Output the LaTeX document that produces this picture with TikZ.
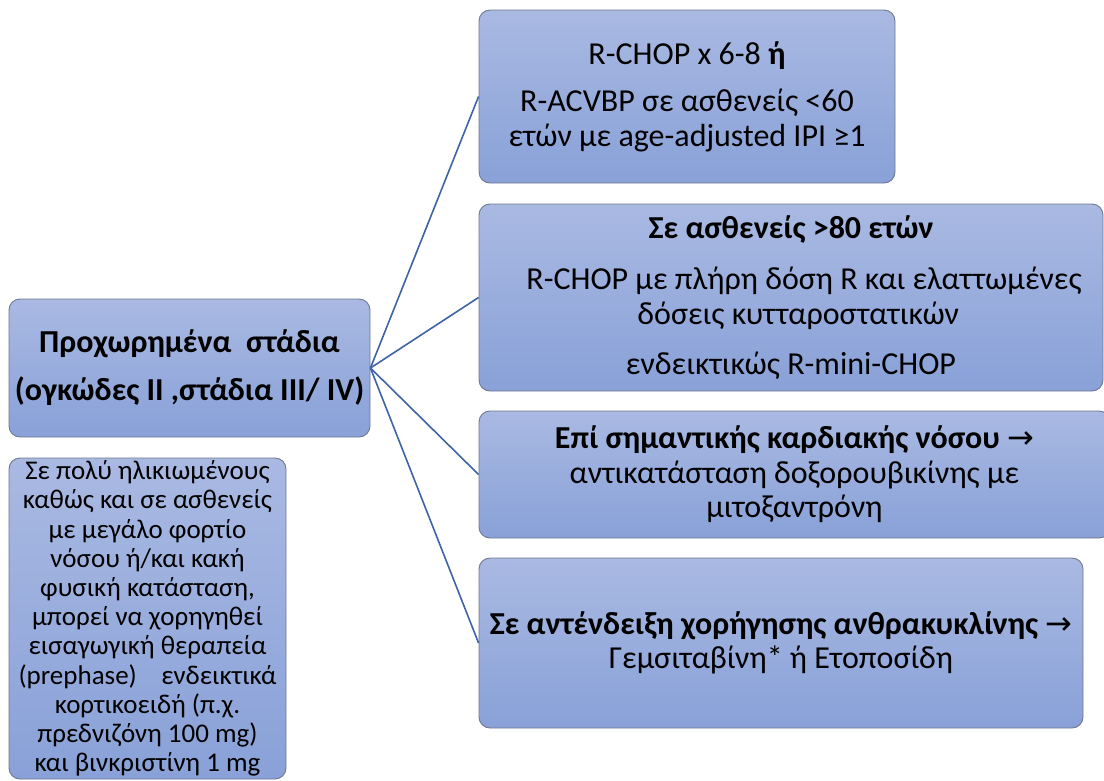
\documentclass[tikz,border=0pt]{standalone}
\usepackage{fontspec}
\setmainfont{Carlito}
\newfontfamily\symf{DejaVu Sans}
\definecolor{topc}{HTML}{A9B9E2}
\definecolor{botc}{HTML}{89A1D8}
\definecolor{edgec}{HTML}{6E7891}
\definecolor{connc}{HTML}{3E63A6}
\tikzset{
  box/.style={draw=edgec, line width=0.9pt, rounded corners=11pt, top color=topc, bottom color=botc, align=center, inner sep=0pt, text=black},
  conn/.style={draw=connc, line width=1.6pt},
  bodyf/.style={font=\fontsize{32}{34.5}\selectfont},
  leftf/.style={font=\fontsize{27}{29.2}\selectfont},
}
\begin{document}
\begin{tikzpicture}[x=1pt,y=-1pt]
\useasboundingbox (0,0) rectangle (1104,780);
\clip (0,0) rectangle (1104,780);
\node[box, minimum width=361pt, minimum height=138pt, font=\fontsize{32}{48}\selectfont\bfseries] (main) at (189.5,368)
  {Προχωρημένα\ \ στάδια\\(ογκώδες II ,στάδια III/ IV)};
\node[box, leftf, minimum width=277pt, minimum height=321pt] (left) at (147.5,618.5)
  {Σε πολύ ηλικιωμένους\\καθώς και σε ασθενείς\\με μεγάλο φορτίο\\νόσου ή/και κακή\\φυσική κατάσταση,\\μπορεί να χορηγηθεί\\εισαγωγική θεραπεία\\(prephase)\ \ \ \ ενδεικτικά\\κορτικοειδή (π.χ.\\πρεδνιζόνη 100 mg)\\και βινκριστίνη 1 mg};
\node[box, bodyf, minimum width=416pt, minimum height=173pt] (b1) at (687,96.5)
  {R-CHOP x 6-8 \textbf{ή}\\[13pt]R-ACVBP σε ασθενείς <60\\ετών με age-adjusted IPI ≥1};
\node[box, bodyf, minimum width=624pt, minimum height=187pt] (b2) at (791,297.5)
  {\textbf{Σε ασθενείς >80 ετών}\\[17pt]\hspace*{26pt}R-CHOP με πλήρη δόση R και ελαττωμένες\\\ \ δόσεις κυτταροστατικών\\[16pt]ενδεικτικώς R-mini-CHOP};
\node[box, bodyf, minimum width=631pt, minimum height=127pt] (b3) at (794.5,474.5)
  {\textbf{Επί σημαντικής καρδιακής νόσου {\symf\mdseries →}}\\αντικατάσταση δοξορουβικίνης με\\μιτοξαντρόνη};
\node[box, bodyf, minimum width=604pt, minimum height=170pt] (b4) at (781,643)
  {\textbf{Σε αντένδειξη χορήγησης ανθρακυκλίνης {\symf\mdseries →}}\\Γεμσιταβίνη* ή Ετοποσίδη};
\draw[conn] (main.east) -- (b1.west);
\draw[conn] (main.east) -- (b2.west);
\draw[conn] (main.east) -- (b3.west);
\draw[conn] (main.east) -- (b4.west);
\end{tikzpicture}
\end{document}
